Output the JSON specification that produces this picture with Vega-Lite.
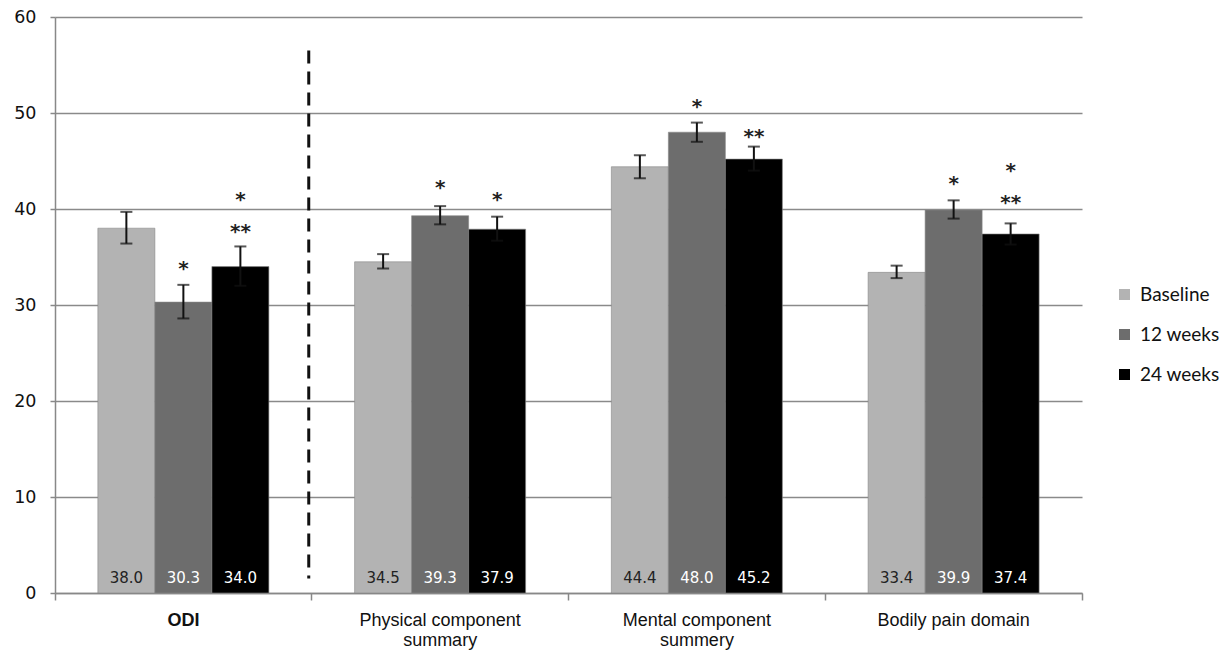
{
  "$schema": "https://vega.github.io/schema/vega-lite/v6.json",
  "autosize": "none",
  "width": 1027,
  "height": 576,
  "padding": {"left": 55, "top": 17, "right": 140, "bottom": 59},
  "background": "white",
  "config": {"view": {"stroke": null}},
  "datasets": {
    "bars": [
      {"cat": "ODI", "time": "Baseline", "mean": 38.0, "lo": 36.4, "hi": 39.7},
      {"cat": "ODI", "time": "12 weeks", "mean": 30.3, "lo": 28.6, "hi": 32.1},
      {"cat": "ODI", "time": "24 weeks", "mean": 34.0, "lo": 32.0, "hi": 36.1},
      {"cat": "Physical component summary", "time": "Baseline", "mean": 34.5, "lo": 33.8, "hi": 35.3},
      {"cat": "Physical component summary", "time": "12 weeks", "mean": 39.3, "lo": 38.4, "hi": 40.3},
      {"cat": "Physical component summary", "time": "24 weeks", "mean": 37.9, "lo": 36.7, "hi": 39.2},
      {"cat": "Mental component summery", "time": "Baseline", "mean": 44.4, "lo": 43.2, "hi": 45.6},
      {"cat": "Mental component summery", "time": "12 weeks", "mean": 48.0, "lo": 47.0, "hi": 49.0},
      {"cat": "Mental component summery", "time": "24 weeks", "mean": 45.2, "lo": 44.0, "hi": 46.5},
      {"cat": "Bodily pain domain", "time": "Baseline", "mean": 33.4, "lo": 32.8, "hi": 34.1},
      {"cat": "Bodily pain domain", "time": "12 weeks", "mean": 39.9, "lo": 39.0, "hi": 40.9},
      {"cat": "Bodily pain domain", "time": "24 weeks", "mean": 37.4, "lo": 36.3, "hi": 38.5}
    ],
    "stars": [
      {"cat": "ODI", "time": "12 weeks", "y": 34.3, "mark": "*"},
      {"cat": "ODI", "time": "24 weeks", "y": 41.5, "mark": "*"},
      {"cat": "ODI", "time": "24 weeks", "y": 38.1, "mark": "**"},
      {"cat": "Physical component summary", "time": "12 weeks", "y": 42.7, "mark": "*"},
      {"cat": "Physical component summary", "time": "24 weeks", "y": 41.5, "mark": "*"},
      {"cat": "Mental component summery", "time": "12 weeks", "y": 51.1, "mark": "*"},
      {"cat": "Mental component summery", "time": "24 weeks", "y": 48.0, "mark": "**"},
      {"cat": "Bodily pain domain", "time": "12 weeks", "y": 43.1, "mark": "*"},
      {"cat": "Bodily pain domain", "time": "24 weeks", "y": 44.5, "mark": "*"},
      {"cat": "Bodily pain domain", "time": "24 weeks", "y": 41.1, "mark": "**"}
    ],
    "divider": [
      {"cat": "Physical component summary", "top": 56.5, "bottom": 1.5}
    ]
  },
  "encoding": {
    "x": {
      "field": "cat", "type": "nominal", "sort": null,
      "scale": {"domain": ["ODI", "Physical component summary", "Mental component summery", "Bodily pain domain"], "paddingInner": 0, "paddingOuter": 0},
      "axis": {
        "title": null, "labelAngle": 0, "grid": false,
        "bandPosition": 1, "tickExtra": true,
        "domainColor": "#888888", "tickColor": "#888888", "tickSize": 7, "domainWidth": 1.5, "tickWidth": 1.5,
        "labelFont": "Liberation Sans", "labelFontSize": 18, "labelColor": "#111111",
        "labelPadding": 11, "labelLineHeight": 20,
        "labelFontWeight": {"condition": {"test": "datum.value == 'ODI'", "value": "bold"}, "value": "normal"},
        "labelExpr": "datum.value == 'Physical component summary' ? ['Physical component', 'summary'] : datum.value == 'Mental component summery' ? ['Mental component', 'summery'] : datum.value"
      }
    },
    "xOffset": {
      "field": "time", "type": "nominal", "sort": null,
      "scale": {"domain": ["Baseline", "12 weeks", "24 weeks"], "paddingInner": 0, "paddingOuter": 0.752}
    }
  },
  "layer": [
    {
      "data": {"name": "bars"},
      "mark": {"type": "bar", "stroke": "#888888", "strokeWidth": 0.6},
      "encoding": {
        "y": {
          "field": "mean", "type": "quantitative",
          "scale": {"domain": [0, 60], "nice": false},
          "axis": {
            "title": null, "values": [0, 10, 20, 30, 40, 50, 60],
            "grid": true, "gridColor": "#8a8a8a", "gridWidth": 1.5,
            "domainColor": "#888888", "domainWidth": 1.5, "tickColor": "#888888", "tickSize": 5, "tickWidth": 1.5,
            "labelFont": "DejaVu Sans", "labelFontSize": 17.5, "labelColor": "#111111", "labelPadding": 14
          }
        },
        "color": {
          "field": "time", "type": "nominal", "sort": null,
          "scale": {"domain": ["Baseline", "12 weeks", "24 weeks"], "range": ["#b3b3b3", "#6d6d6d", "#000000"]},
          "legend": {
            "title": null, "orient": "none", "legendX": 1060, "legendY": 268,
            "symbolType": "square", "symbolSize": 121, "symbolStrokeWidth": 0,
            "labelFont": "Lato", "labelFontSize": 19, "labelColor": "#111111",
            "rowPadding": 20, "labelOffset": 6
          }
        }
      }
    },
    {
      "data": {"name": "bars"},
      "mark": {"type": "rule", "color": "#111111", "strokeWidth": 2},
      "encoding": {
        "y": {"field": "lo", "type": "quantitative"},
        "y2": {"field": "hi"}
      }
    },
    {
      "data": {"name": "bars"},
      "mark": {"type": "tick", "color": "#111111", "thickness": 2, "size": 12},
      "encoding": {"y": {"field": "lo", "type": "quantitative"}}
    },
    {
      "data": {"name": "bars"},
      "mark": {"type": "tick", "color": "#111111", "thickness": 2, "size": 12},
      "encoding": {"y": {"field": "hi", "type": "quantitative"}}
    },
    {
      "data": {"name": "bars"},
      "mark": {"type": "text", "font": "DejaVu Sans", "fontSize": 15, "baseline": "middle", "dy": -15},
      "encoding": {
        "y": {"datum": 0, "type": "quantitative"},
        "text": {"field": "mean", "type": "quantitative", "format": ".1f"},
        "color": {"condition": {"test": "datum.time == 'Baseline'", "value": "#222222"}, "value": "#ffffff"}
      }
    },
    {
      "data": {"name": "stars"},
      "mark": {"type": "text", "font": "DejaVu Sans", "fontSize": 20, "fontWeight": "bold", "baseline": "middle", "dy": 5, "color": "#222222", "letterSpacing": 1},
      "encoding": {
        "y": {"field": "y", "type": "quantitative"},
        "text": {"field": "mark"}
      }
    },
    {
      "data": {"name": "divider"},
      "mark": {"type": "rule", "color": "#111111", "strokeWidth": 3, "strokeDash": [13, 8]},
      "encoding": {
        "x": {"field": "cat", "type": "nominal", "bandPosition": 0},
        "xOffset": {"value": -3},
        "y": {"field": "top", "type": "quantitative"},
        "y2": {"field": "bottom"}
      }
    }
  ]
}
